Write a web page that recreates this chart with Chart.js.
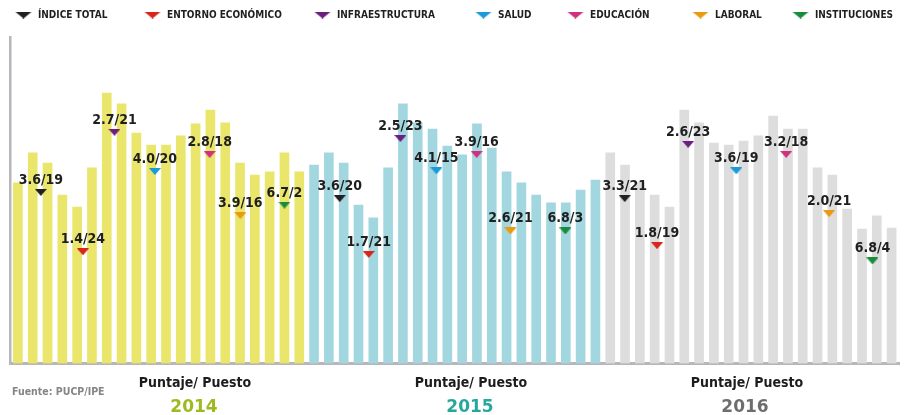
<!DOCTYPE html>
<html lang="es">
<head>
<meta charset="utf-8">
<title>Índice de Competitividad Regional</title>
<script src="https://cdn.jsdelivr.net/npm/chart.js@4.4.1/dist/chart.umd.min.js"></script>
<style>
  html, body { margin: 0; padding: 0; background: #fff; }
</style>
</head>
<body>
<canvas id="chart" width="906" height="415"></canvas>
<script>
const years = ["2014", "2015", "2016"];

// one bar per region (0-10 scale)
const bars2014 = [5.53, 6.45, 6.14, 5.16, 4.79, 5.99, 8.28, 7.95, 7.06, 6.69,
                  6.69, 6.97, 7.34, 7.76, 7.37, 6.14, 5.77, 5.87, 6.45, 5.87];
const bars2015 = [6.08, 6.45, 6.14, 4.85, 4.46, 5.99, 7.95, 7.37, 7.18, 6.66,
                  6.39, 7.34, 6.60, 5.87, 5.53, 5.16, 4.92, 4.92, 5.31, 5.62];
const bars2016 = [6.45, 6.08, 5.56, 5.16, 4.79, 7.76, 7.37, 6.75, 6.69, 6.81,
                  6.97, 7.58, 7.18, 7.18, 5.99, 5.77, 4.73, 4.12, 4.52, 4.15];

const pillars = ["ÍNDICE TOTAL", "ENTORNO ECONÓMICO", "INFRAESTRUCTURA", "SALUD",
                 "EDUCACIÓN", "LABORAL", "INSTITUCIONES"];
const pillarColors = ["#231f20", "#d8261d", "#6c1d7f", "#1a9bd7", "#d1307f", "#e99a10", "#198c3b"];

// puntaje / puesto per pillar, for 2014, 2015, 2016
const pillarScores = [[3.6, 3.6, 3.3], [1.4, 1.7, 1.8], [2.7, 2.5, 2.6], [4.0, 4.1, 3.6],
                      [2.8, 3.9, 3.2], [3.9, 2.6, 2.0], [6.7, 6.8, 6.8]];
const pillarRanks = [[19, 20, 21], [24, 21, 19], [21, 23, 23], [20, 15, 19],
                     [18, 16, 18], [16, 21, 21], [2, 3, 4]];

// where each marker sits: bar index (may fall between bars) and level on the 0-10 scale
const markerIndex = [[1.55, 21.73, 40.98], [4.39, 23.69, 43.16], [6.52, 25.83, 45.26],
                     [9.25, 28.26, 48.51], [12.95, 30.98, 51.88], [15.02, 33.26, 54.78],
                     [18.0, 36.97, 57.71]];
const markerLevel = [[5.24, 5.05, 5.05], [3.42, 3.34, 3.61], [7.08, 6.89, 6.71],
                     [5.88, 5.90, 5.90], [6.40, 6.40, 6.40], [4.53, 4.06, 4.59],
                     [4.85, 4.06, 3.14]];

const yearBarColors = ["#e9e66b", "#a3d7df", "#dddddd"];
const yearTextColors = ["#9dba1f", "#27a89c", "#6e6e6e"];

const allBars = [...bars2014, ...bars2015, ...bars2016];
const barLabels = [];
const barColors = [];
[bars2014, bars2015, bars2016].forEach((list, y) => {
  list.forEach((v, i) => {
    barLabels.push(`${years[y]}-${i + 1}`);
    barColors.push(yearBarColors[y]);
  });
});

function makeTriangle(color, w, h) {
  const c = document.createElement("canvas");
  c.width = w;
  c.height = h;
  const g = c.getContext("2d");
  g.fillStyle = color;
  g.beginPath();
  g.moveTo(0, 0);
  g.lineTo(w, 0);
  g.lineTo(w / 2, h);
  g.closePath();
  g.fill();
  return c;
}

const markerTriangles = pillarColors.map((c) => makeTriangle(c, 12, 7));
const legendTriangles = pillarColors.map((c) => makeTriangle(c, 17, 7));

const markerDatasets = pillars.map((name, p) => ({
  type: "scatter",
  label: name,
  order: 0,
  xAxisID: "xm",
  yAxisID: "y",
  data: markerIndex[p].map((x, k) => ({ x: x, y: markerLevel[p][k] })),
  pointStyle: markerTriangles[p],
  pointRadius: 4,
  backgroundColor: pillarColors[p],
  borderColor: pillarColors[p],
}));

const markerLabels = {
  id: "markerLabels",
  afterDatasetsDraw(chart) {
    const ctx = chart.ctx;
    ctx.save();
    ctx.font = "bold 14px 'DejaVu Sans Condensed', 'DejaVu Sans', sans-serif";
    ctx.fillStyle = "#1f1f1f";
    ctx.textAlign = "center";
    ctx.textBaseline = "alphabetic";
    pillars.forEach((name, p) => {
      const meta = chart.getDatasetMeta(p + 1);
      meta.data.forEach((pt, k) => {
        const text = `${pillarScores[p][k].toFixed(1)}/${pillarRanks[p][k]}`;
        ctx.fillText(text, pt.x, pt.y - 8.5);
      });
    });
    ctx.restore();
  },
};

// legend row across the top, spaced like the printed graphic
const topLegend = {
  id: "topLegend",
  afterDraw(chart) {
    const ctx = chart.ctx;
    const itemX = [15, 144, 314, 475, 567, 692, 792];
    ctx.save();
    ctx.font = "bold 10px 'DejaVu Sans Condensed', 'DejaVu Sans', sans-serif";
    ctx.fillStyle = "#1f1f1f";
    ctx.textAlign = "left";
    ctx.textBaseline = "middle";
    pillars.forEach((name, p) => {
      ctx.drawImage(legendTriangles[p], itemX[p], 11.5);
      ctx.fillText(name, itemX[p] + 23, 15.5);
    });
    ctx.restore();
  },
};

const footerText = {
  id: "footerText",
  afterDraw(chart) {
    const ctx = chart.ctx;
    const centers = [[195, 194], [471, 470], [747, 745]];
    ctx.save();
    ctx.textBaseline = "alphabetic";

    ctx.font = "bold 10.5px 'DejaVu Sans Condensed', 'DejaVu Sans', sans-serif";
    ctx.fillStyle = "#858585";
    ctx.textAlign = "left";
    ctx.fillText("Fuente: PUCP/IPE", 12, 395);

    ctx.textAlign = "center";
    centers.forEach((c, y) => {
      ctx.font = "bold 14px 'DejaVu Sans Condensed', 'DejaVu Sans', sans-serif";
      ctx.fillStyle = "#1c1c1c";
      ctx.fillText("Puntaje/ Puesto", c[0], 387);
      ctx.font = "bold 17px 'DejaVu Sans', sans-serif";
      ctx.fillStyle = yearTextColors[y];
      ctx.fillText(years[y], c[1], 412);
    });
    ctx.restore();
  },
};

new Chart(document.getElementById("chart"), {
  type: "bar",
  data: {
    labels: barLabels,
    datasets: [
      {
        label: "Regiones",
        order: 1,
        data: allBars,
        backgroundColor: barColors,
        barThickness: 9,
        grouped: false,
      },
      ...markerDatasets,
    ],
  },
  options: {
    responsive: false,
    animation: false,
    layout: {
      padding: { top: 37, left: 10.5, right: 7, bottom: 51.5 },
    },
    scales: {
      x: {
        type: "category",
        ticks: { display: false },
        grid: { display: false, drawTicks: false },
        border: { display: true, color: "#b6b6bb", width: 3 },
      },
      // bar-index axis for the markers, lined up with the category slots
      xm: {
        type: "linear",
        display: false,
        offset: false,
        bounds: "data",
        min: -0.5,
        max: 59.5,
      },
      y: {
        type: "linear",
        min: 0,
        max: 10,
        ticks: { display: false },
        grid: { display: false, drawTicks: false },
        border: { display: true, color: "#b6b6bb", width: 2.5 },
      },
    },
    plugins: {
      tooltip: { enabled: false },
      legend: { display: false },
    },
  },
  plugins: [markerLabels, topLegend, footerText],
});
</script>
</body>
</html>
